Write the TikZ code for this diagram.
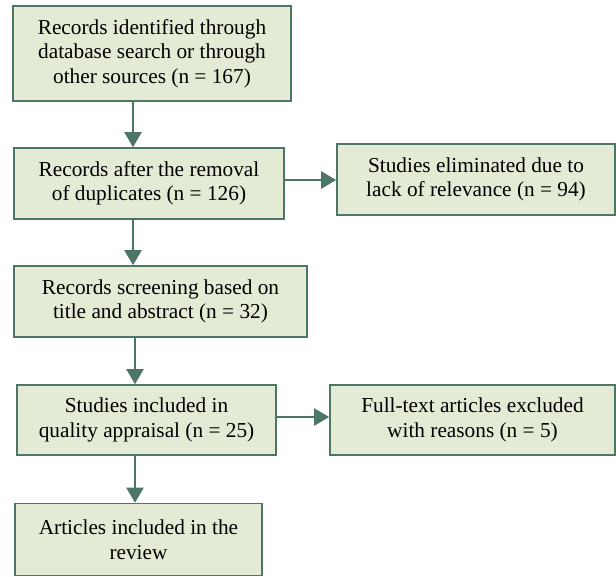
\documentclass[tikz,border=0pt]{standalone}
\usepackage{fontspec}
\setmainfont{Liberation Serif}
\newfontfamily\boxfont{Liberation Serif}
\usetikzlibrary{arrows.meta}
\definecolor{boxfill}{HTML}{E4EBD5}
\definecolor{boxline}{HTML}{4C7767}
\tikzset{
  flowbox/.style={draw=boxline, fill=boxfill, line width=1.6pt, rectangle, align=center,
    inner sep=0pt, font=\boxfont\fontsize{21.3}{24.5}\selectfont},
  flowarrow/.style={draw=boxline, line width=2.2pt, -{Triangle[width=17pt,length=15pt]}}
}
\begin{document}
\begin{tikzpicture}[x=1pt,y=-1pt]
\useasboundingbox (0,0) rectangle (616,576);
\node[flowbox, minimum width=278pt, minimum height=95pt] (b1) at (152,53.5)
  {Records identified through\\database search or through\\other sources (n = 167)};
\node[flowbox, minimum width=270pt, minimum height=71pt] (b2) at (149,183.5)
  {Records after the removal\\of duplicates (n = 126)};
\node[flowbox, minimum width=278pt, minimum height=71pt] (b3) at (476,179.5)
  {Studies eliminated due to\\lack of relevance (n = 94)};
\node[flowbox, minimum width=293pt, minimum height=71pt] (b4) at (160.5,301.5)
  {Records screening based on\\title and abstract (n = 32)};
\node[flowbox, minimum width=259pt, minimum height=70pt] (b5) at (146.5,420)
  {Studies included in\\quality appraisal (n = 25)};
\node[flowbox, minimum width=285pt, minimum height=70pt] (b6) at (472.5,420)
  {Full-text articles excluded\\with reasons (n = 5)};
\node[flowbox, minimum width=247pt, minimum height=72pt] (b7) at (138.5,539.5)
  {Articles included in the\\review};
\draw[flowarrow] (b1.south -| 133,0) -- (b2.north -| 133,0);
\draw[flowarrow] (b2.south -| 133,0) -- (b4.north -| 133,0);
\draw[flowarrow] (b4.south -| 135,0) -- (b5.north -| 135,0);
\draw[flowarrow] (b5.south -| 135,0) -- (b7.north -| 135,0);
\draw[flowarrow] (b2.east |- 0,180) -- (b3.west |- 0,180);
\draw[flowarrow] (b5.east |- 0,417) -- (b6.west |- 0,417);
\end{tikzpicture}
\end{document}
